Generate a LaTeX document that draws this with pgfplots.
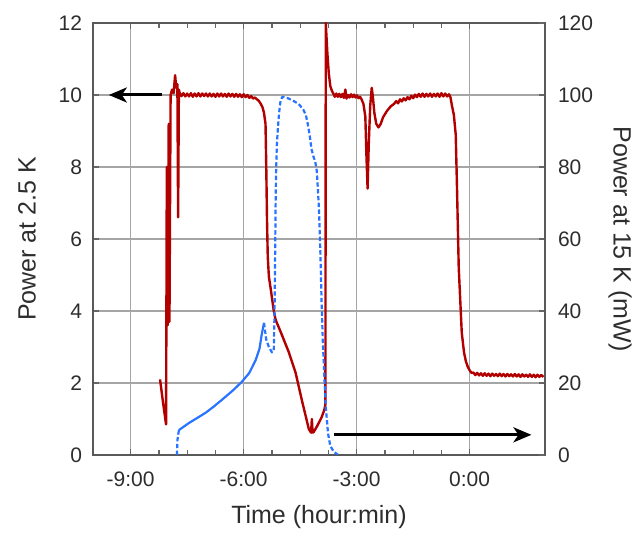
\documentclass[border=0pt]{standalone}
\usepackage{fontspec}
\setmainfont{Liberation Sans}
\usepackage{pgfplots}
\pgfplotsset{compat=1.18}
\usetikzlibrary{arrows.meta,calc}
\definecolor{myred}{RGB}{178,0,0}
\definecolor{myblue}{RGB}{40,115,255}
\definecolor{txt}{RGB}{45,45,45}
\definecolor{gridc}{RGB}{165,165,165}
\pgfplotsset{common/.style={
  scale only axis, width=226pt, height=216pt,
  xmin=-10, xmax=2,
  xtick={-9,-6,-3,0}, xticklabels={-9:00,-6:00,-3:00,0:00},
  minor x tick num=3,
  axis line style={draw=black!65, line width=0.8pt},
  tick style={draw=black!60, line width=0.6pt},
  major tick length=3pt, minor tick length=2.5pt,
  ticklabel style={font=\fontsize{10.5pt}{12pt}\selectfont, text=txt},
  label style={font=\fontsize{12.5pt}{14pt}\selectfont, text=txt},
  /pgf/number format/assume math mode=true,
  tick align=inside,
}}
\begin{document}
\begin{tikzpicture}
\begin{axis}[common,
  ymin=0, ymax=12, ytick={0,2,4,6,8,10,12},
  grid=major, major grid style={draw=gridc, line width=0.8pt},
  ylabel={Power at 2.5 K},
  ylabel style={at={(axis description cs:-0.146,0.5)}, anchor=center},
  xlabel={Time (hour:min)},
  xlabel style={at={(axis description cs:0.5,-0.1435)}, anchor=center},
  xticklabel style={yshift=-5pt},
  yticklabel style={xshift=-2pt},
  ytick pos=left,
]
\addplot[myred, line width=1.2pt, line join=round] coordinates {
(-8.22,2.10) (-8.14,1.45) (-8.06,0.85) (-8.04,8.00) (-8.02,3.60) (-7.99,9.20)
(-7.97,3.70) (-7.94,10.00) (-7.90,10.15) (-7.86,10.05) (-7.82,10.55) (-7.79,10.20)
(-7.76,10.30) (-7.74,6.60) (-7.72,10.15)
(-7.70,10.06) (-7.65,9.97) (-7.60,10.05) (-7.55,9.96) (-7.50,10.04) (-7.45,9.96)
(-7.40,10.05) (-7.35,9.95) (-7.30,10.04) (-7.25,9.96) (-7.20,10.05) (-7.15,9.96)
(-7.10,10.04) (-7.05,9.97) (-7.00,10.04) (-6.95,9.96) (-6.90,10.04) (-6.85,9.96)
(-6.80,10.03) (-6.75,9.95) (-6.70,10.04) (-6.65,9.96) (-6.60,10.04) (-6.55,9.96)
(-6.50,10.03) (-6.45,9.95) (-6.40,10.04) (-6.35,9.96) (-6.30,10.03) (-6.25,9.95)
(-6.20,10.03) (-6.15,9.95) (-6.10,10.02) (-6.05,9.94) (-6.00,10.02) (-5.95,9.94)
(-5.90,10.00) (-5.85,9.92) (-5.80,9.97) (-5.75,9.90) (-5.70,9.93)
(-5.65,9.88) (-5.60,9.84) (-5.55,9.76) (-5.50,9.66) (-5.46,9.50) (-5.42,9.20)
(-5.40,8.00) (-5.38,6.50) (-5.36,5.50) (-5.33,4.95) (-5.28,4.60) (-5.20,4.00)
(-5.15,3.75) (-5.01,3.40) (-4.80,2.85) (-4.62,2.28) (-4.45,1.50) (-4.27,0.72)
(-4.21,0.62) (-4.19,1.00) (-4.17,0.62) (-4.14,0.64) (-4.05,0.80) (-3.93,1.05)
(-3.86,1.25) (-3.83,1.40) (-3.82,12.00) (-3.78,11.20) (-3.74,10.60) (-3.70,10.25)
(-3.66,10.12)
(-3.62,10.04) (-3.58,9.95) (-3.54,10.04) (-3.50,9.95) (-3.46,10.03) (-3.42,9.94)
(-3.38,10.03) (-3.34,9.92) (-3.30,10.15) (-3.27,9.90) (-3.23,10.00) (-3.19,9.93)
(-3.15,10.02) (-3.11,9.94) (-3.07,10.01) (-3.03,9.93) (-2.99,9.99) (-2.95,9.91)
(-2.91,9.95) (-2.87,9.88)
(-2.82,9.75) (-2.77,9.40) (-2.74,8.30) (-2.71,7.40) (-2.68,8.60) (-2.64,9.70)
(-2.60,10.20) (-2.57,9.95) (-2.53,9.50) (-2.48,9.20) (-2.42,9.10) (-2.36,9.20)
(-2.30,9.38) (-2.20,9.55) (-2.10,9.68) (-2.00,9.76)
(-1.95,9.83) (-1.90,9.77) (-1.85,9.88) (-1.80,9.82) (-1.75,9.91) (-1.70,9.85)
(-1.65,9.94) (-1.60,9.88) (-1.55,9.98) (-1.50,9.91) (-1.45,10.01) (-1.40,9.94)
(-1.35,10.03) (-1.30,9.95) (-1.25,10.04) (-1.20,9.95) (-1.15,10.03) (-1.10,9.96)
(-1.05,10.04) (-1.00,9.95) (-0.95,10.03) (-0.90,9.96) (-0.85,10.04) (-0.80,9.95)
(-0.75,10.05) (-0.70,9.96) (-0.65,10.04) (-0.60,9.96) (-0.55,10.02) (-0.51,9.94)
(-0.47,9.70) (-0.42,9.45) (-0.37,8.90) (-0.34,7.60) (-0.29,5.20) (-0.21,3.40)
(-0.15,2.85) (-0.10,2.60) (-0.05,2.45) (0.00,2.35) (0.05,2.28)
(0.10,2.29) (0.15,2.22) (0.20,2.28) (0.25,2.21) (0.30,2.27) (0.35,2.20)
(0.40,2.27) (0.45,2.20) (0.50,2.26) (0.55,2.19) (0.60,2.26) (0.65,2.20)
(0.70,2.25) (0.75,2.19) (0.80,2.26) (0.85,2.19) (0.90,2.25) (0.95,2.18)
(1.00,2.25) (1.05,2.19) (1.10,2.24) (1.15,2.18) (1.20,2.25) (1.25,2.18)
(1.30,2.24) (1.35,2.17) (1.40,2.24) (1.45,2.18) (1.50,2.23) (1.55,2.17)
(1.60,2.24) (1.65,2.17) (1.70,2.23) (1.75,2.16) (1.80,2.23) (1.85,2.17)
(1.90,2.22) (1.96,2.17)
};
\draw[line width=1.5pt, -{Stealth[length=9pt,width=7.5pt,inset=2.5pt]}] (axis cs:-8.17,10) -- (axis cs:-9.58,10);
\draw[line width=1.5pt, -{Stealth[length=9pt,width=7.5pt,inset=2.5pt]}] (axis cs:-3.61,0.56) -- (axis cs:1.64,0.56);
\coordinate (ll) at (rel axis cs:0,0);
\coordinate (ur) at (rel axis cs:1,1);
\end{axis}
\begin{axis}[common,
  ymin=0, ymax=120, ytick={0,20,40,60,80,100,120},
  axis y line*=right, axis x line=none,
  ylabel={Power at 15 K (mW)},
  ylabel style={at={(axis description cs:1.166,0.5)}, anchor=center, rotate=180},
  yticklabel style={xshift=3pt},
]
\addplot[myblue, line width=1.1pt, line join=round] coordinates {
(-7.72,6.9) (-7.60,7.8) (-7.45,8.9) (-7.20,10.5) (-7.00,11.8) (-6.80,13.4)
(-6.58,15.3) (-6.30,17.8) (-6.05,20.3) (-5.85,22.8) (-5.68,26.4) (-5.58,29.5)
(-5.52,33.5) (-5.46,36.7)
};
\addplot[myblue, line width=1.1pt, dash pattern=on 2.2pt off 1.2pt] coordinates {
(-7.77,0) (-7.76,4) (-7.72,6.9)
};
\addplot[myblue, line width=1.1pt, dash pattern=on 2.2pt off 1.2pt, line join=round] coordinates {
(-5.46,36.7) (-5.40,32) (-5.33,30) (-5.25,28.5) (-5.20,29) (-5.18,40) (-5.16,60)
(-5.15,72) (-5.14,78) (-5.12,86) (-5.09,91) (-5.06,95) (-5.02,98.5) (-4.97,99.5)
(-4.85,99.2) (-4.70,98.5) (-4.54,97.5) (-4.42,96) (-4.35,94.5) (-4.30,92)
(-4.25,89) (-4.20,85) (-4.15,83) (-4.10,81.5) (-4.06,79) (-4.03,74) (-4.00,68)
(-3.96,55) (-3.93,42) (-3.90,32) (-3.87,24.5) (-3.82,13.3) (-3.76,6) (-3.70,2.5)
(-3.60,0.8) (-3.50,0.1)
};
\end{axis}
\pgfresetboundingbox
\path ($(ll)+(-46.5pt,-41.5pt)$) rectangle ($(ur)+(44pt,11.5pt)$);
\end{tikzpicture}
\end{document}
